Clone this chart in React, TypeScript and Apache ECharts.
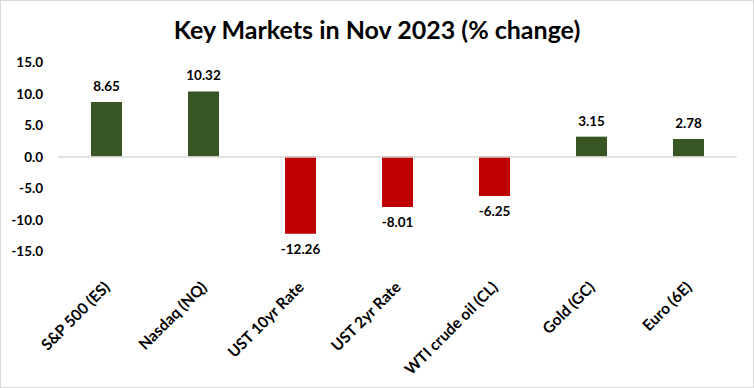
import React, { useEffect, useRef } from "react";
import * as echarts from "echarts";

const categories = [
  "S&P 500 (ES)",
  "Nasdaq (NQ)",
  "UST 10yr Rate",
  "UST 2yr Rate",
  "WTI crude oil (CL)",
  "Gold (GC)",
  "Euro (6E)",
];
const values = [8.65, 10.32, -12.26, -8.01, -6.25, 3.15, 2.78];
const titleText = "Key Markets in Nov 2023 (% change)";
const yMin = -15;
const yMax = 15;
const yStep = 5;

const GREEN = "#375623";
const RED = "#C00000";
const FONT = "Lato";

export default function App() {
  const ref = useRef<HTMLDivElement>(null);
  useEffect(() => {
    document.body.style.margin = "0";
    if (!ref.current) return;
    const chart = echarts.init(ref.current, null, { renderer: "svg" });
    const data = values.map((v) => ({
      value: v,
      itemStyle: { color: v >= 0 ? GREEN : RED },
      label: {
        show: true,
        position: v >= 0 ? "top" : "bottom",
        distance: v >= 0 ? 9 : 8,
        formatter: (p: any) => p.value.toFixed(2),
        fontFamily: FONT,
        fontWeight: "bold",
        fontSize: 13.5,
        color: "#000",
      },
    }));
    chart.setOption({
      animation: false,
      backgroundColor: "#fff",
      title: {
        text: titleText,
        left: "center",
        top: 10,
        textStyle: {
          fontFamily: FONT,
          fontWeight: "bold",
          fontSize: 25,
          color: "#000",
        },
      },
      grid: { left: 57, right: 16, top: 61, bottom: 136, containLabel: false },
      xAxis: {
        type: "category",
        data: categories,
        axisLine: { show: false },
        axisTick: { show: false },
        axisLabel: {
          rotate: 45,
          margin: 33,
          interval: 0,
          fontFamily: FONT,
          fontWeight: "bold",
          fontSize: 15.5,
          color: "#000",
        },
      },
      yAxis: {
        type: "value",
        min: yMin,
        max: yMax,
        interval: yStep,
        axisLine: { show: false },
        axisTick: { show: false },
        splitLine: { show: false },
        axisLabel: {
          margin: 15,
          formatter: (v: number) => v.toFixed(1),
          fontFamily: FONT,
          fontWeight: "bold",
          fontSize: 13.5,
          color: "#000",
        },
      },
      series: [
        {
          type: "bar",
          data,
          barWidth: 31,
          markLine: {
            silent: true,
            symbol: "none",
            label: { show: false },
            lineStyle: { color: "#d9d9d9", type: "solid", width: 1.5 },
            data: [{ yAxis: 0 }],
          },
        },
      ],
    });
    return () => chart.dispose();
  }, []);
  return (
    <div
      ref={ref}
      style={{
        width: 754,
        height: 388,
        boxSizing: "border-box",
        border: "1px solid #d9d9d9",
      }}
    />
  );
}
